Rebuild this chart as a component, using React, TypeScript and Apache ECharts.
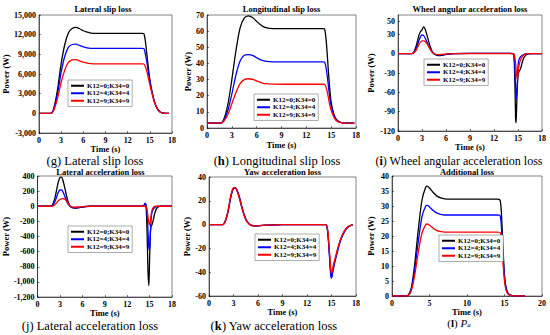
import React, { useEffect, useRef } from "react";
import * as echarts from "echarts";

const names = ["K12=0;K34=0", "K12=4;K34=4", "K12=9;K34=9"];
const colors = ["#000000", "#0000ff", "#ff0000"];

// (g) Lateral slip loss
const tG = [0, 1, 1.6, 2, 2.5, 3, 3.5, 4, 4.5, 5, 5.5, 6, 6.5, 7, 8, 10, 12, 14, 14.2, 14.4, 14.6, 14.8, 15, 15.3, 15.6, 16, 16.4, 16.8, 17.2, 17.6];
const gBlack = [0, 0, 0, 700, 3500, 7500, 10500, 12300, 12950, 13100, 12900, 12600, 12400, 12250, 12200, 12200, 12200, 12200, 12150, 11000, 9000, 7000, 5200, 3300, 1900, 750, 220, 50, 0, 0];
const gBlue = [0, 0, 0, 580, 2900, 6200, 8700, 10100, 10500, 10550, 10350, 10150, 10000, 9920, 9900, 9900, 9900, 9900, 9870, 9000, 7800, 6300, 4900, 3200, 1850, 720, 200, 45, 0, 0];
const gRed = [0, 0, 0, 440, 2200, 4700, 6600, 7800, 8150, 8200, 8000, 7800, 7650, 7580, 7550, 7550, 7550, 7550, 7520, 7100, 6400, 5400, 4400, 3000, 1800, 700, 190, 40, 0, 0];

// (h) Longitudinal slip loss
const tH = [0, 1, 1.6, 2, 2.5, 3, 3.5, 4, 4.5, 5, 5.5, 6, 6.5, 7, 8, 10, 12, 14, 14.2, 14.4, 14.6, 14.8, 15, 15.3, 15.6, 16, 16.4, 16.8, 17.2, 17.8];
const hBlack = [3, 3, 3, 5, 14, 30, 48, 62, 68, 69.5, 68.5, 66, 63.8, 62.3, 61.5, 61.5, 61.5, 61.5, 61.3, 54, 40, 26, 16, 9, 5.5, 3.8, 3.2, 3.05, 3, 3];
const hBlue = [3, 3, 3, 4.5, 10.5, 21, 33, 41.5, 45, 45.5, 45, 43.5, 42.2, 41.4, 41, 41, 41, 41, 40.8, 37, 29, 20, 13.5, 8, 5, 3.7, 3.2, 3.05, 3, 3];
const hRed = [3, 3, 3, 4, 8, 15, 22, 27.5, 30, 30.5, 30.2, 29.2, 28.2, 27.5, 27.2, 27.1, 27.1, 27.1, 27, 25, 20.5, 15, 11, 7, 4.6, 3.5, 3.1, 3.02, 3, 3];

// (i) Wheel angular acceleration loss
const tI = [0, 1, 1.7, 2, 2.3, 2.6, 2.8, 3, 3.2, 3.4, 3.7, 4, 4.3, 4.6, 5, 5.5, 6, 7, 9, 12, 14, 14.4, 14.5, 14.6, 14.7, 14.75, 14.8, 14.9, 15, 15.1, 15.3, 15.5, 15.7, 16, 16.5, 18];
const iBlack = [0, 0, 0, 3, 13, 28, 34, 37, 41.5, 38, 25, 12, 3, -1, -3, -2.5, -1, 0, 0.5, 0.5, 0.5, 0, -3, -40, -100, -107, -95, -55, -35, -28, -24, -15, -7, -2, 0, 0];
const iBlue = [0, 0, 0, 2, 9, 20, 26, 29, 28, 24, 16, 8, 2, -1, -2, -1.8, -1, 0, 0.3, 0.3, 0.3, 0, -3, -20, -55, -66, -70, -50, -20, -10, -5, -3, -1.5, -0.5, 0, 0];
const iRed = [0, 0, 0, 1.5, 6, 14, 18, 20, 20, 19, 14, 7, 2, -0.5, -1.5, -1.2, -0.6, 0, 0.2, 0.2, 0.2, 0, -1, -5, -15, -22, -30, -40, -30, -20, -10, -5, -2.5, -0.5, 0, 0];
const iTicks = [-120, -90, -60, -30, 0, 30, 50];

// (j) Lateral acceleration loss
const tJ = [0, 1, 1.7, 2, 2.3, 2.6, 2.8, 3, 3.2, 3.4, 3.7, 4, 4.3, 4.6, 5, 5.5, 6, 6.5, 7, 9, 12, 14, 14.2, 14.4, 14.5, 14.6, 14.7, 14.8, 14.9, 15, 15.1, 15.2, 15.3, 15.5, 15.7, 16, 16.5, 18];
const jBlack = [0, 0, 0, 20, 100, 240, 330, 380, 385, 340, 220, 90, 10, -20, -25, -20, -10, -5, 0, 0, 0, 0, 5, 35, 20, -150, -500, -900, -1050, -700, -350, -260, -250, -180, -90, -20, 0, 0];
const jBlue = [0, 0, 0, 10, 55, 135, 190, 215, 215, 190, 120, 45, 5, -15, -20, -15, -8, -3, 0, 0, 0, 0, 5, 40, 20, -40, -150, -350, -550, -580, -380, -180, -90, -40, -15, -3, 0, 0];
const jRed = [0, 0, 0, 3, 20, 50, 75, 90, 98, 100, 90, 50, 10, -8, -12, -10, -5, -2, 0, 0, 0, 0, 0, 5, 0, -20, -70, -150, -220, -250, -200, -120, -60, -15, -3, 0, 0, 0];

// (k) Yaw acceleration loss
const tK = [0, 1, 1.7, 2, 2.3, 2.6, 2.8, 3, 3.2, 3.4, 3.7, 4, 4.3, 4.6, 5, 5.5, 6, 7, 9, 12, 14, 14.3, 14.5, 14.7, 14.9, 15, 15.2, 15.5, 15.8, 16.1, 16.4, 16.8, 17.2, 17.6];
const kBlack = [0, 0, 0, 3, 10, 21, 27, 30.5, 31, 29, 23, 15, 8, 3, 0, -1, -1, -0.5, 0, 0, 0, 0, -4, -20, -40, -44, -37, -28, -20, -13, -8, -3.5, -1.2, -0.3];
const kBlue = [0, 0, 0, 3, 10, 21, 27, 30.5, 31, 29.5, 24, 16, 8.5, 3.5, 0.3, -1, -1, -0.5, 0, 0, 0, 0, -4, -21, -42, -45, -38, -29, -21, -13.5, -8.5, -3.7, -1.3, -0.3];
const kRed = [0, 0, 0, 3, 10.5, 22, 28, 31, 31, 29, 23, 15, 8, 3, 0, -1, -1, -0.5, 0, 0, 0, 0, -3, -18, -37, -41, -35, -27, -19, -12.5, -7.5, -3.3, -1.1, -0.3];

// (l) Additional loss
const tL = [0, 1, 2, 2.3, 2.6, 3, 3.5, 4, 4.5, 4.7, 5, 5.5, 6, 6.5, 7, 8, 10, 12, 14, 14.4, 14.6, 14.8, 15, 15.2, 15.5, 16, 16.5, 17.7];
const lBlack = [0, 0, 0, 0.8, 3, 10, 22, 32, 36.3, 36.6, 36, 34.5, 33.3, 32.7, 32.4, 32.3, 32.3, 32.3, 32.3, 32, 27, 16, 7, 3, 0.8, 0.1, 0, 0];
const lBlue = [0, 0, 0, 0.7, 2.5, 8.3, 18, 26.5, 30, 30.2, 29.7, 28.5, 27.6, 27.2, 27, 27, 27, 27, 27, 26.8, 22.5, 13.5, 6, 2.5, 0.7, 0.1, 0, 0];
const lRed = [0, 0, 0, 0.5, 2, 6.5, 14.5, 21, 23.8, 24, 23.6, 22.6, 21.8, 21.5, 21.3, 21.3, 21.3, 21.3, 21.3, 21.2, 18, 11, 5, 2, 0.6, 0.1, 0, 0];

const FONT = '"Liberation Serif", "Times New Roman", serif';

const panels = [
  { t: tG, s: [gBlack, gBlue, gRed], title: "Lateral slip loss", titleY: 9, grid: { left: 34, top: 15, width: 138, height: 118 }, xMax: 18, xInt: 3, yMin: -3000, yMax: 15000, yInt: 3000, yGap: 27, xGap: 8, legend: { left: 68, top: 80 }, comma: true, caption: "(g) Lateral slip loss", capPos: [95, 160.5], capSize: 12.5 },
  { t: tH, s: [hBlack, hBlue, hRed], title: "Longitudinal slip loss", titleY: 9, grid: { left: 207, top: 15, width: 149, height: 113 }, xMax: 18, xInt: 3, yMin: 0, yMax: 70, yInt: 10, yGap: 15, xGap: 13, legend: { left: 254, top: 94 }, caption: "({b|h}) Longitudinal slip loss", capPos: [277, 160.5], capSize: 12.5 },
  { t: tI, s: [iBlack, iBlue, iRed], title: "Wheel angular acceleration loss", titleY: 9, grid: { left: 398, top: 15, width: 144, height: 116 }, xMax: 18, xInt: 3, yMin: -120, yMax: 60, yInt: 30, custom: iTicks, yGap: 23, xGap: 10.5, legend: { left: 424, top: 59 }, caption: "({b|i}) Wheel angular acceleration loss", capPos: [459, 160.5], capSize: 12 },
  { t: tJ, s: [jBlack, jBlue, jRed], title: "Lateral acceleration loss", titleY: 171.5, grid: { left: 29, top: 176, width: 143, height: 121 }, xMax: 18, xInt: 3, yMin: -1200, yMax: 400, yInt: 200, yGap: 22, xGap: 10.5, legend: { left: 68, top: 226 }, caption: "(j) Lateral acceleration loss", capPos: [90, 326], capSize: 12.5 },
  { t: tK, s: [kBlack, kBlue, kRed], title: "Yaw acceleration loss", titleY: 172, grid: { left: 209, top: 177, width: 147, height: 119 }, xMax: 18, xInt: 3, yMin: -60, yMax: 40, yInt: 20, yGap: 17, xGap: 10.5, legend: { left: 255, top: 234 }, caption: "({b|k}) Yaw acceleration loss", capPos: [274, 326], capSize: 12.5 },
  { t: tL, s: [lBlack, lBlue, lRed], title: "Additional loss", titleY: 171.5, grid: { left: 392, top: 176, width: 150, height: 120 }, xMax: 20, xInt: 5, yMin: 0, yMax: 40, yInt: 5, yGap: 17, xGap: 9.5, legend: { left: 439, top: 235 }, caption: "({b|l}) {i|P}{s|a}", capPos: [459, 322.5], capSize: 11 },
];

const pair = (t: number[], v: number[]) => t.map((x, i) => [x, v[i]]);

export default function App() {
  const ref = useRef<HTMLDivElement>(null);
  useEffect(() => {
    if (!ref.current) return;
    const chart = echarts.init(ref.current, null, { renderer: "svg" });
    const labelStyle = { fontFamily: FONT, fontWeight: "bold", fontSize: 8, color: "#000" };
    const nameStyle = { fontFamily: FONT, fontWeight: "bold", fontSize: 8.5, color: "#000", lineHeight: 8.5 };
    const grids: any[] = [];
    const xAxes: any[] = [];
    const yAxes: any[] = [];
    const series: any[] = [];
    const legends: any[] = [];
    const graphics: any[] = [];
    panels.forEach((p, gi) => {
      grids.push({ ...p.grid, show: true, borderColor: "#333", borderWidth: 0.6, backgroundColor: "#fff" });
      xAxes.push({
        type: "value", gridIndex: gi, min: 0, max: p.xMax, interval: p.xInt,
        name: "Time (s)", nameLocation: "middle", nameGap: p.xGap, nameTextStyle: nameStyle,
        axisLine: { show: true, onZero: false, lineStyle: { color: "#000", width: 0.6 } },
        axisTick: { show: true, inside: true, length: 2, lineStyle: { color: "#000", width: 0.5 } },
        axisLabel: { ...labelStyle, margin: 3 },
        splitLine: { show: false },
      });
      const yLabel: any = { ...labelStyle, margin: 3 };
      if (p.comma) yLabel.formatter = (v: number) => v.toLocaleString("en-US");
      const yTick: any = { show: true, inside: true, length: 2, lineStyle: { color: "#000", width: 0.5 } };
      if (p.custom) { yLabel.customValues = p.custom; yTick.customValues = p.custom; }
      yAxes.push({
        type: "value", gridIndex: gi, min: p.yMin, max: p.yMax, interval: p.yInt,
        name: "Power (W)", nameLocation: "middle", nameGap: p.yGap, nameTextStyle: nameStyle,
        axisLine: { show: true, onZero: false, lineStyle: { color: "#000", width: 0.6 } },
        axisTick: yTick, axisLabel: yLabel, splitLine: { show: false },
      });
      p.s.forEach((vals, si) => {
        series.push({
          type: "line", name: names[si], xAxisIndex: gi, yAxisIndex: gi,
          data: pair(p.t, vals), showSymbol: false, symbol: "none", smooth: 0.3,
          lineStyle: { color: colors[si], width: 1.3 }, itemStyle: { color: colors[si] }, z: 2 + si,
        });
      });
      legends.push({
        left: p.legend.left, top: p.legend.top, orient: "vertical", data: names,
        icon: "rect", itemWidth: 13, itemHeight: 2, itemGap: 0, padding: [2, 3, 2, 3],
        backgroundColor: "#fff", borderColor: "#777", borderWidth: 0.6, selectedMode: false,
        textStyle: { fontFamily: FONT, fontWeight: "bold", fontSize: 7, color: "#000", lineHeight: 7.5, padding: [0, 0, 0, -2] },
        z: 10,
      });
      graphics.push({
        type: "text", x: p.grid.left + p.grid.width / 2, y: p.titleY, z: 10,
        style: { text: p.title, fontFamily: FONT, fontWeight: "bold", fontSize: 8.5, lineHeight: 8.5, fill: "#000", align: "center", verticalAlign: "middle", textAlign: "center", textVerticalAlign: "middle" },
      });
      graphics.push({
        type: "text", x: p.capPos[0], y: p.capPos[1], z: 10,
        style: {
          text: p.caption, fontFamily: FONT, fontSize: p.capSize, lineHeight: p.capSize, fill: "#000",
          align: "center", verticalAlign: "middle", textAlign: "center", textVerticalAlign: "middle",
          rich: {
            b: { fontFamily: FONT, fontSize: p.capSize, lineHeight: p.capSize, fontWeight: "bold", fill: "#000" },
            i: { fontFamily: FONT, fontSize: p.capSize, lineHeight: p.capSize, fontStyle: "italic", fill: "#000" },
            s: { fontFamily: FONT, fontSize: 7, lineHeight: p.capSize, fontStyle: "italic", fill: "#000", padding: [5, 0, 0, 0] },
          },
        },
      });
    });
    chart.setOption({
      animation: false,
      backgroundColor: "#fff",
      grid: grids, xAxis: xAxes, yAxis: yAxes, series, legend: legends,
      graphic: { elements: graphics },
    });
    return () => chart.dispose();
  }, []);
  return <div ref={ref} style={{ position: "absolute", left: 0, top: 0, width: 550, height: 335 }} />;
}
